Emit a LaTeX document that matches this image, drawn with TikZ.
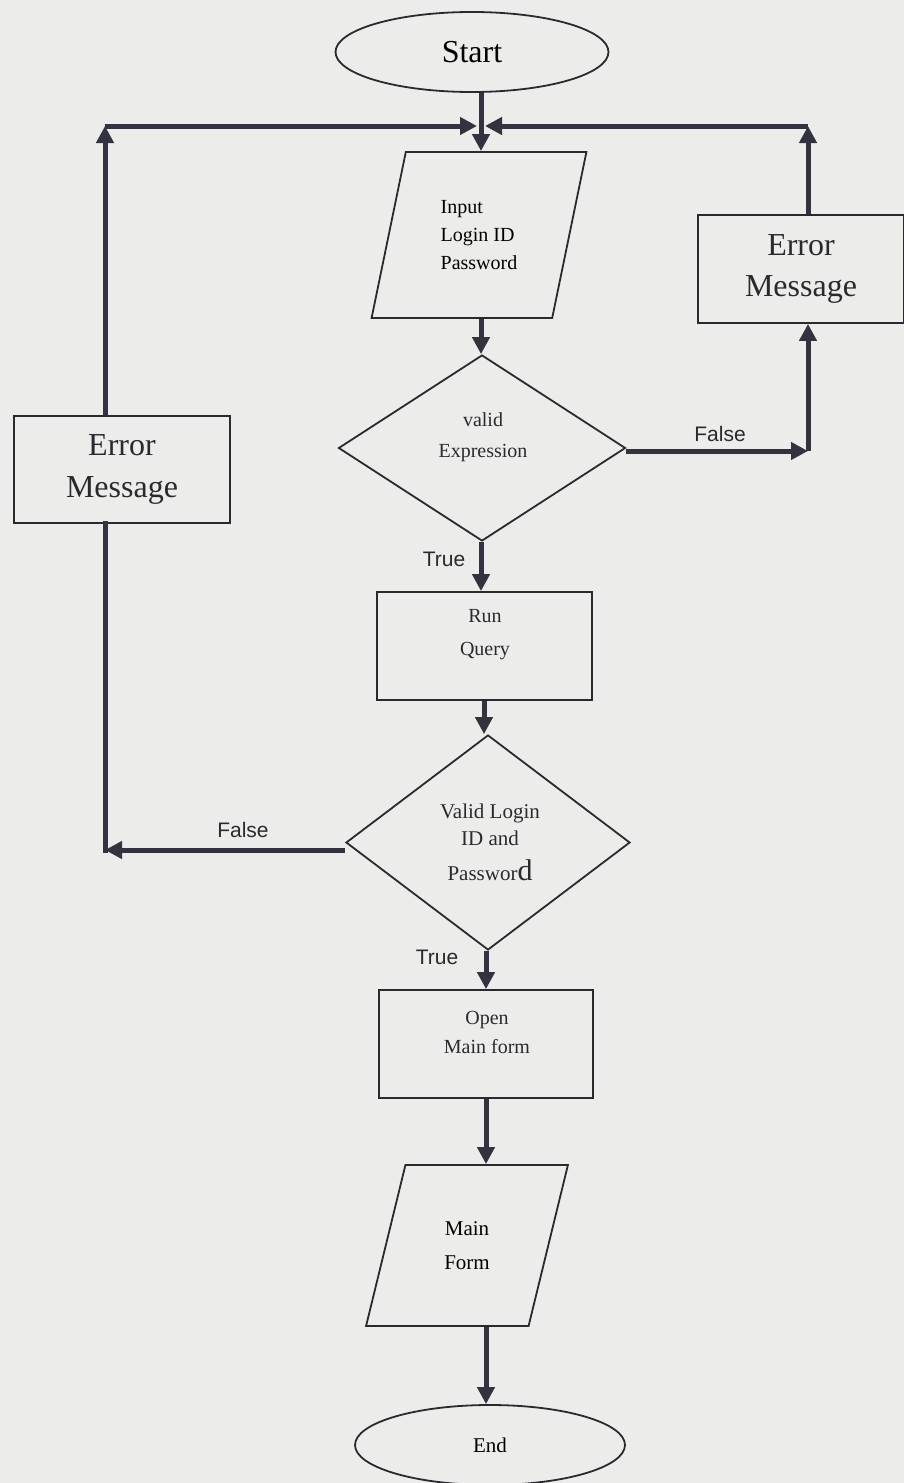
\documentclass[tikz,border=0pt]{standalone}
\usepackage{fontspec}
\setmainfont{Liberation Serif}
\newfontfamily\labelfont{Liberation Sans}
\usetikzlibrary{shapes.geometric,arrows.meta}
\definecolor{paper}{HTML}{ECEDEB}
\definecolor{outline}{HTML}{2A2A2E}
\definecolor{wire}{HTML}{33333F}
\newcommand{\fs}[1]{\fontsize{#1}{1.45\dimexpr#1pt\relax}\selectfont}
\begin{document}
\begin{tikzpicture}[x=1pt,y=-1pt,
  shapeline/.style={draw=outline, line width=1.8pt},
  box/.style={shapeline, rectangle, inner sep=0pt},
  decision/.style={shapeline, diamond, inner sep=0pt},
  terminal/.style={shapeline, ellipse, inner sep=0pt},
  io/.style={shapeline, trapezium, trapezium stretches=true, inner sep=0pt},
  flow/.style={draw=wire, line width=5pt, -{Triangle[length=17pt,width=17pt]}},
  plainwire/.style={draw=wire, line width=5pt, line cap=rect},
  txt/.style={align=center, inner sep=0pt, text=outline},
  cond/.style={font=\labelfont\fontsize{21}{21}\selectfont, inner sep=0pt, text=outline}]

% page
\fill[paper] (0,0) rectangle (904,1483);
\useasboundingbox (0,0) rectangle (904,1483);

% ---- shapes ----
\node[terminal, minimum width=273pt, minimum height=80pt, font=\fs{32}] (start) at (472,52) {Start};

\node[io, trapezium left angle=75.5, trapezium right angle=104.5,
      minimum width=215pt, minimum height=166pt, align=left, font=\fs{20}]
      (input) at (479,235) {Input\\[-1pt]Login ID\\[-1pt]Password};

\node[box, minimum width=206pt, minimum height=108pt, font=\fs{32}, align=center, text=outline]
      (errR) at (801,269) {Error\\[-5pt]Message};

\node[decision, minimum width=287pt, minimum height=186pt] (dia1) at (482,448) {};
\node[txt, font=\fs{20}] (dia1txt) at (483,437) {valid\\[2pt]Expression};

\node[box, minimum width=216pt, minimum height=107pt, font=\fs{32}, align=center, text=outline]
      (errL) at (122,469.5) {Error\\[-5pt]Message};

\node[box, minimum width=215pt, minimum height=108pt] (run) at (484.5,646) {};
\node[txt, font=\fs{20}] (runtxt) at (485,635) {Run\\[4pt]Query};

\node[decision, minimum width=284pt, minimum height=215pt] (dia2) at (488,842.5) {};
\node[txt, font=\fs{21}] (dia2txt) at (490,842)
      {Valid Login\\[-3pt]ID and\\[4pt]Passwor{\fontsize{30}{30}\selectfont d}};

\node[box, minimum width=214pt, minimum height=108pt] (open) at (486,1044) {};
\node[txt, font=\fs{20}] (opentxt) at (487,1032) {Open\\[0pt]Main form};

\node[io, trapezium left angle=73, trapezium right angle=107,
      minimum width=202pt, minimum height=161pt, align=center, font=\fs{21}]
      (mainform) at (467,1245.5) {Main\\[3pt]Form};

\node[terminal, minimum width=270pt, minimum height=80pt, font=\fs{21}] (end) at (490,1445) {End};

% ---- routing points ----
\coordinate (join) at (481,126);
\coordinate (tl) at (105,126);
\coordinate (tr) at (808,126);
\coordinate (rc) at (808,451);
\coordinate (lc) at (105,850);

% ---- connectors ----
\draw[flow] (start.south -| join) -- (input.north -| join);
\draw[flow] (input.south -| join) -- (dia1.north -| join);
\draw[flow] (dia1.south -| join) -- (run.north -| join);
\draw[flow] (run.south -| 484,0) -- (dia2.north -| 484,0);
\draw[flow] (dia2.south -| 486,0) -- (open.north -| 486,0);
\draw[flow] (open.south -| 486,0) -- (mainform.north -| 486,0);
\draw[flow] (mainform.south -| 486,0) -- (end.north -| 486,0);

% false branch of the first test, back to the input
\draw[flow] (dia1.east |- rc) -- (rc);
\draw[flow] (rc) -- (rc |- errR.south);
\draw[flow] (tr |- errR.north) -- (tr);
\draw[flow] (tr) -- ([xshift=4pt]join);

% false branch of the second test, back to the input
\draw[flow] (dia2.west |- lc) -- (lc);
\draw[plainwire] (lc) -- (lc |- errL.south);
\draw[flow] (tl |- errL.north) -- (tl);
\draw[flow] (tl) -- ([xshift=-4pt]join);

% ---- branch labels ----
\node[cond] (f1) at (720,434) {False};
\node[cond] (t1) at (444,559) {True};
\node[cond] (f2) at (243,830) {False};
\node[cond] (t2) at (437,957) {True};
\end{tikzpicture}
\end{document}
